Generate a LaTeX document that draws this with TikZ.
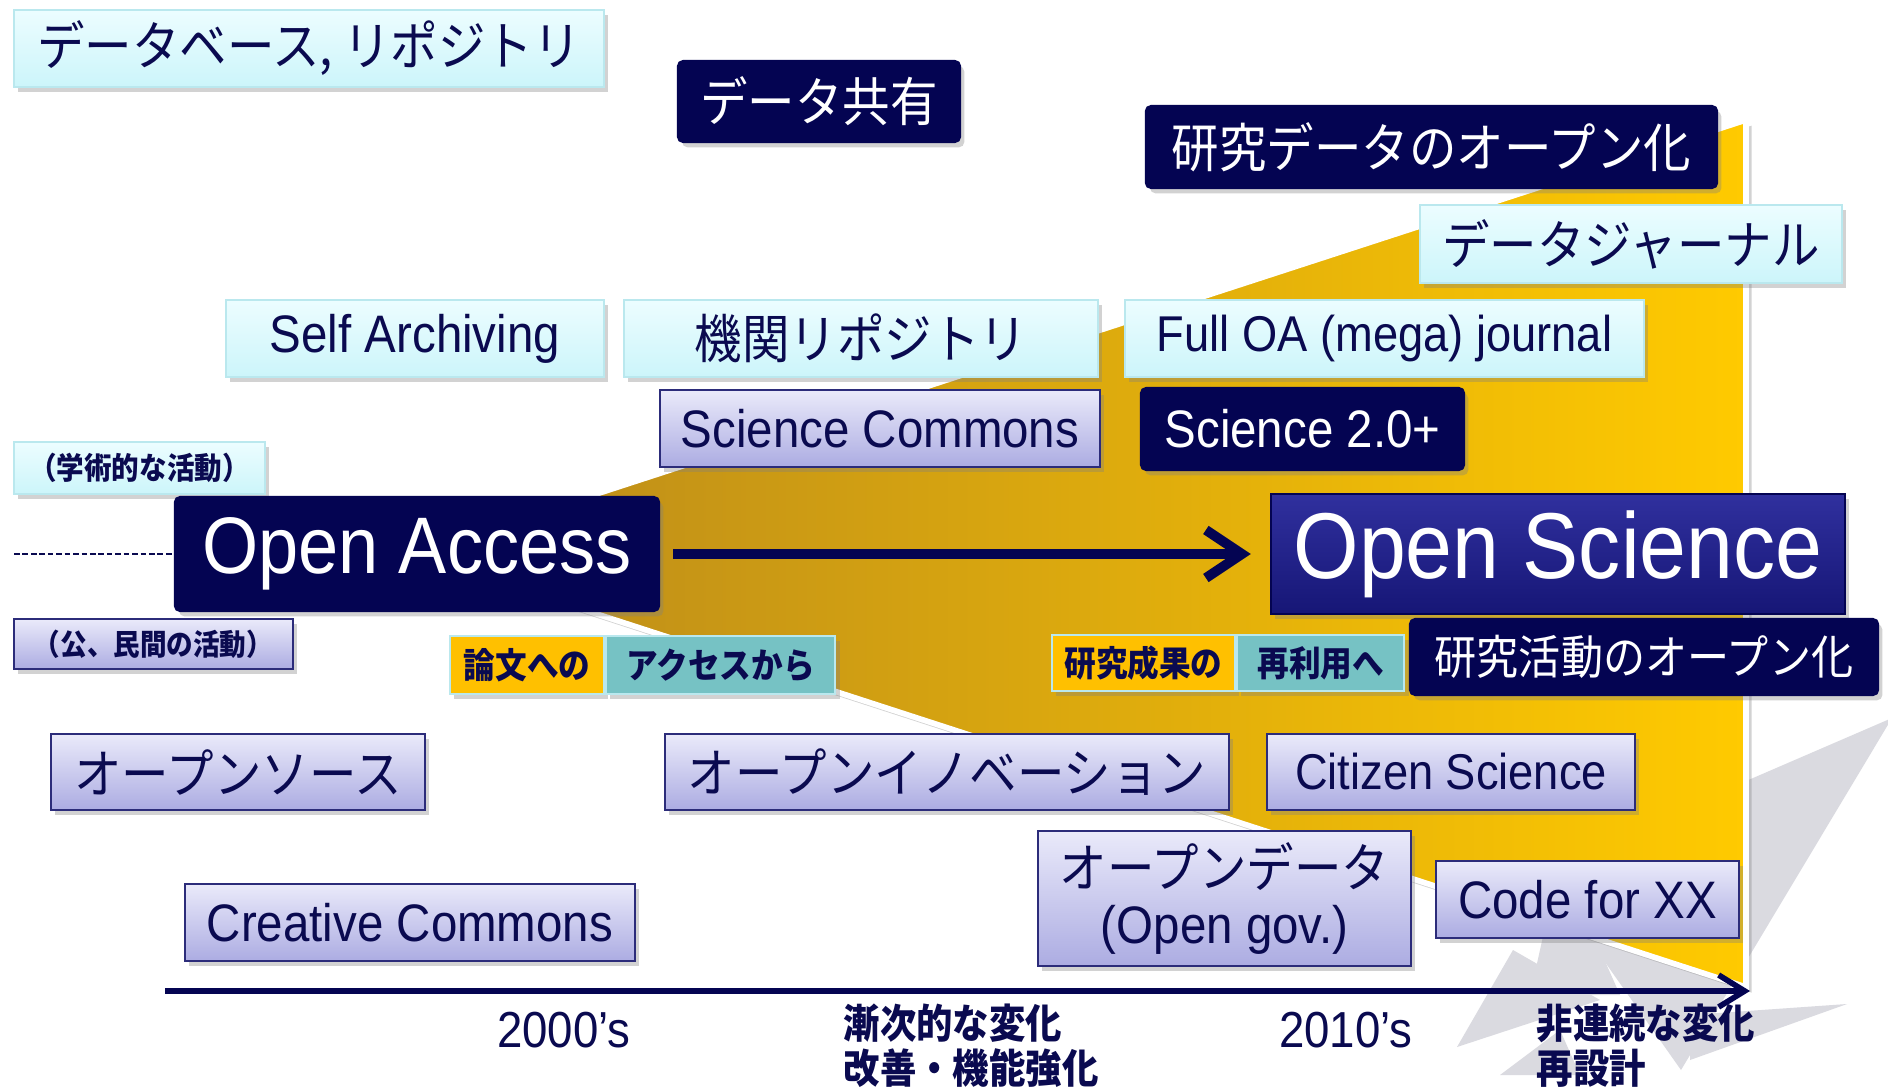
\documentclass[tikz,border=0pt]{standalone}
\usepackage{fontspec}
\setmainfont{Liberation Sans}[FakeStretch=0.9]
\newfontfamily\jp{Noto Sans CJK JP}[FakeStretch=0.9]
\usepackage{tikz}
\usetikzlibrary{positioning, calc, shadows, arrows.meta}

\definecolor{navyD}{RGB}{4,4,82}
\definecolor{ink}{RGB}{10,10,80}
\definecolor{cyanT}{RGB}{236,253,255}
\definecolor{cyanB}{RGB}{204,245,250}
\definecolor{cyanD}{RGB}{186,232,238}
\definecolor{lavT}{RGB}{234,234,250}
\definecolor{lavB}{RGB}{172,172,226}
\definecolor{lavD}{RGB}{44,44,122}
\definecolor{osT}{RGB}{48,48,158}
\definecolor{osB}{RGB}{22,22,118}
\definecolor{goldL}{RGB}{255,192,0}
\definecolor{tealL}{RGB}{118,194,196}
\definecolor{wedgeL}{RGB}{184,136,28}
\definecolor{wedgeR}{RGB}{255,202,0}
\definecolor{burstG}{RGB}{218,218,224}

\newcommand\fsz[2]{\fontsize{#1pt}{#2pt}\selectfont}

\begin{document}
\begin{tikzpicture}[x=0.01cm, y=-0.01cm,
box/.style={rectangle, inner sep=0pt, line width=.6pt, text=ink,
  drop shadow={shadow xshift=1.2pt, shadow yshift=-1.5pt, opacity=.35}},
sz/.style 2 args={minimum width=#1cm, minimum height=#2cm},
cbox/.style={box, top color=cyanT, bottom color=cyanB, draw=cyanD},
lbox/.style={box, top color=lavT, bottom color=lavB, draw=lavD},
nbox/.style={box, fill=navyD, draw=navyD, rounded corners=1.5pt, text=white},
ybox/.style={box, fill=goldL, draw=cyanD, font=\jp\bfseries\fsz{10}{12}},
tbox/.style={ybox, fill=tealL},
lbl/.style={text=ink, inner sep=0pt}]

\path[use as bounding box, fill=white] (0,0) rectangle (1888,1091);

%background
\fill[burstG] (1892,718) -- (1540,870) -- (1681,1070) -- cycle;
\fill[burstG] (1847,1004) -- (1690,1015) -- (1690,1060) -- cycle;
\fill[burstG] (1457,1047) -- (1513,950) -- (1600,1000) -- cycle;
\fill[burstG] (1500,1075) -- (1560,1030) -- (1580,1075) -- cycle;
\fill[burstG] (1560,860) -- (1530,995) -- (1620,995) -- cycle;

\coordinate (apex) at (412,554);
\coordinate (wtop) at (1746,120);
\coordinate (wbot) at (1746,987);
\path[left color=wedgeL, right color=wedgeR, draw=white, line width=1.6pt,
  drop shadow={shadow xshift=1.6pt, shadow yshift=-1.6pt, opacity=.35}]
  (apex) -- (wtop) -- (wbot) -- cycle;

%time axis
\coordinate (t0) at (165,991);
\coordinate (t1) at (1750,991);
\draw[navyD, line width=1.6pt, -{Straight Barb[length=2.6mm, width=3.2mm]}] (t0) -- (t1);

\node[lbl, font=\fsz{14.4}{16}] (y2000) at (564,1030) {2000’s};
\node[lbl, font=\fsz{14.4}{16}] (y2010) at (1346,1030) {2010’s};
\node[lbl, anchor=west, align=left, font=\jp\bfseries\fsz{11.5}{12.8}] (grad) at (843,1046)
  {漸次的な変化\\改善・機能強化};
\node[lbl, anchor=west, align=left, font=\jp\bfseries\fsz{11.5}{12.8}] (disc) at (1536,1046)
  {非連続な変化\\再設計};

%upper row
\node[cbox, sz={5.90}{.77}, font=\jp\fsz{15}{17}] (db) at (309,48.5) {データベース, リポジトリ};
\node[nbox, sz={2.82}{.81}, font=\jp\fsz{15}{17}] (share) at (819,101.5) {データ共有};
\node[nbox, sz={5.71}{.82}, font=\jp\fsz{15}{17}] (rdo) at (1431.5,147) {研究データのオープン化};
\node[cbox, sz={4.22}{.78}, font=\jp\fsz{15}{17}] (dj) at (1631,244) {データジャーナル};
\node[cbox, sz={3.78}{.77}, font=\fsz{15}{17}] (self) at (415,338.5) {Self Archiving};
\node[cbox, sz={4.74}{.77}, font=\jp\fsz{15}{17}] (ir) at (861,338.5) {機関リポジトリ};
\node[cbox, sz={5.19}{.77}, font=\fsz{14.3}{17}] (mega) at (1384.5,338.5) {Full OA (mega) journal};
\node[lbox, sz={4.40}{.77}, font=\fsz{15}{17}] (sc) at (880,428.5) {Science Commons};
\node[nbox, sz={3.23}{.82}, font=\fsz{15}{17}] (s20) at (1302.5,429) {Science 2.0+};
\node[cbox, sz={2.51}{.52}, font=\jp\bfseries\fsz{8.7}{10}] (acad) at (139.5,468) {（学術的な活動）};

%main line
\node[nbox, sz={4.84}{1.14}, font=\fsz{22.8}{25}] (oa) at (417,554) {Open Access};
\node[box, top color=osT, bottom color=osB, draw=navyD, text=white, sz={5.74}{1.20},
  font=\fsz{26.6}{28}] (os) at (1558,554) {Open Science};
\coordinate (dashL) at (14,554);
\draw[ink, line width=.6pt, dash pattern=on 1.6pt off .8pt] (dashL) -- (oa.west);
\draw[navyD, line width=2.8pt, -{Straight Barb[length=3.6mm, width=4.8mm]},
  shorten <=.13cm, shorten >=.19cm] (oa) -- (os);

%lower row
\node[lbox, sz={2.79}{.50}, font=\jp\bfseries\fsz{8.4}{10}] (pub) at (153.5,644) {（公、民間の活動）};
\node[ybox, sz={1.54}{.58}] (paper) at (527,665) {論文への};
\node[tbox, sz={2.29}{.58}, right=0pt of paper] (access) {アクセスから};
\node[ybox, sz={1.83}{.56}] (result) at (1143.5,663) {研究成果の};
\node[tbox, sz={1.67}{.56}, right=0pt of result] (reuse) {再利用へ};
\node[nbox, sz={4.68}{.76}, font=\jp\fsz{13.3}{15}] (rao) at (1644,657) {研究活動のオープン化};
\node[lbox, sz={3.74}{.76}, font=\jp\fsz{15}{17}] (osrc) at (238,772) {オープンソース};
\node[lbox, sz={5.64}{.76}, font=\jp\fsz{15}{17}] (oi) at (947,772) {オープンイノベーション};
\node[lbox, sz={3.68}{.76}, font=\fsz{14.3}{17}] (cit) at (1451,772) {Citizen Science};
\node[lbox, sz={3.73}{1.35}, align=center, font=\fsz{15}{16}] (od) at (1224.5,898.5)
  {{\jp オープンデータ}\\(Open gov.)};
\node[lbox, sz={3.03}{.77}, font=\fsz{15}{17}] (c4x) at (1587.5,899.5) {Code for XX};
\node[lbox, sz={4.50}{.77}, font=\fsz{15}{17}] (cc) at (410,922.5) {Creative Commons};
\end{tikzpicture}
\end{document}
